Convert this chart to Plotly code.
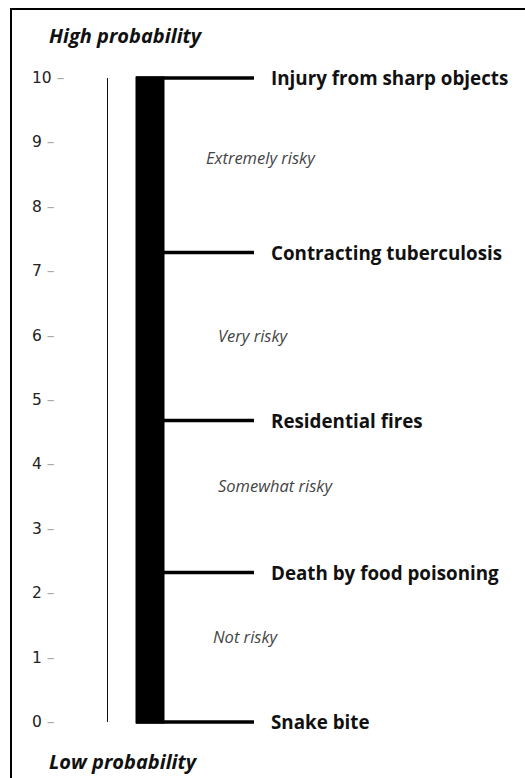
import plotly.graph_objects as go

# ── data ─────────────────────────────────────────────────────────────
EVENTS = ["Injury from sharp objects", "Contracting tuberculosis", "Residential fires",
          "Death by food poisoning", "Snake bite"]
EVENT_PROB = [10, 7.29, 4.68, 2.32, 0]

RISK_LABELS = ["Extremely risky", "Very risky", "Somewhat risky", "Not risky"]
RISK_Y = [8.77, 6.0, 3.68, 1.32]

TICK_VALS = [0, 1, 2, 3, 4, 5, 6, 7, 8, 9, 10]
SCALE_MIN, SCALE_MAX = 0, 10

# ── layout constants (pixel-ish x axis, 0..525) ──────────────────────
W, H = 525, 778
PX_PER_UNIT = 64.4
Y_TOP_PX, Y_BOT_PX = 78, 722
Y_MAX = SCALE_MAX + Y_TOP_PX / PX_PER_UNIT
Y_MIN = SCALE_MIN - (H - Y_BOT_PX) / PX_PER_UNIT

X_THIN = 107.5
X_BAR = 150
X_LINE = (136, 254)
X_LABEL = 269
X_RISK = [204, 216, 216, 211]
X_TICK = 30

FONT = "Open Sans"
INK = "#111111"

fig = go.Figure()

# thin reference line
fig.add_trace(go.Scatter(
    x=[X_THIN, X_THIN], y=[SCALE_MIN, SCALE_MAX], mode="lines",
    line=dict(color="#111111", width=1), hoverinfo="skip", showlegend=False,
))

# thick probability bar
fig.add_trace(go.Bar(
    x=[X_BAR], y=[SCALE_MAX - SCALE_MIN], base=SCALE_MIN, width=26,
    marker=dict(color="black", line=dict(color="black", width=3)),
    hoverinfo="skip", showlegend=False,
))

# connector lines to each event
lx, ly = [], []
for p in EVENT_PROB:
    lx += [X_LINE[0], X_LINE[1], None]
    ly += [p, p, None]
fig.add_trace(go.Scatter(
    x=lx, y=ly, mode="lines", line=dict(color="black", width=3.5),
    hoverinfo="skip", showlegend=False,
))

# event labels
for name, p in zip(EVENTS, EVENT_PROB):
    fig.add_annotation(x=X_LABEL, y=p, text=f"<b>{name}</b>", showarrow=False,
                       xanchor="left", yanchor="middle",
                       font=dict(family=FONT, size=18.8, color=INK))

# risk band labels
for name, y, x in zip(RISK_LABELS, RISK_Y, X_RISK):
    fig.add_annotation(x=x, y=y, text=f"<i>{name}</i>", showarrow=False,
                       xanchor="left", yanchor="middle",
                       font=dict(family=FONT, size=16.5, color="#444444"))

# scale tick labels (number + grey dash)
for v in TICK_VALS:
    fig.add_annotation(x=X_TICK, y=v, showarrow=False, xanchor="left", yanchor="middle",
                       text=f"{v} <span style='color:#aaaaaa'>–</span>",
                       font=dict(family="DejaVu Sans", size=15.5, color="#222222"))

# end captions
fig.add_annotation(xref="paper", yref="paper", x=47 / W, y=1 - 35 / H,
                   text="<b><i>High probability</i></b>", showarrow=False,
                   xanchor="left", yanchor="middle",
                   font=dict(family=FONT, size=20, color=INK))
fig.add_annotation(xref="paper", yref="paper", x=47 / W, y=1 - 761 / H,
                   text="<b><i>Low probability</i></b>", showarrow=False,
                   xanchor="left", yanchor="middle",
                   font=dict(family=FONT, size=20, color=INK))

# frame (left + top edges visible; the rest runs off the canvas)
fig.add_shape(type="rect", xref="paper", yref="paper",
              x0=11 / W, x1=1.1, y0=-0.1, y1=1 - 9 / H,
              line=dict(color="black", width=2), fillcolor="rgba(0,0,0,0)")

fig.update_layout(
    width=W, height=H, margin=dict(l=0, r=0, t=0, b=0),
    paper_bgcolor="white", plot_bgcolor="white", showlegend=False,
    xaxis=dict(visible=False, range=[0, W], fixedrange=True),
    yaxis=dict(visible=False, range=[Y_MIN, Y_MAX], fixedrange=True),
)

# drop the page's default body margin so the figure sits at (0, 0)
fig.write_html("out.html", config={"displayModeBar": False},
               post_script="document.body.style.margin='0';")
